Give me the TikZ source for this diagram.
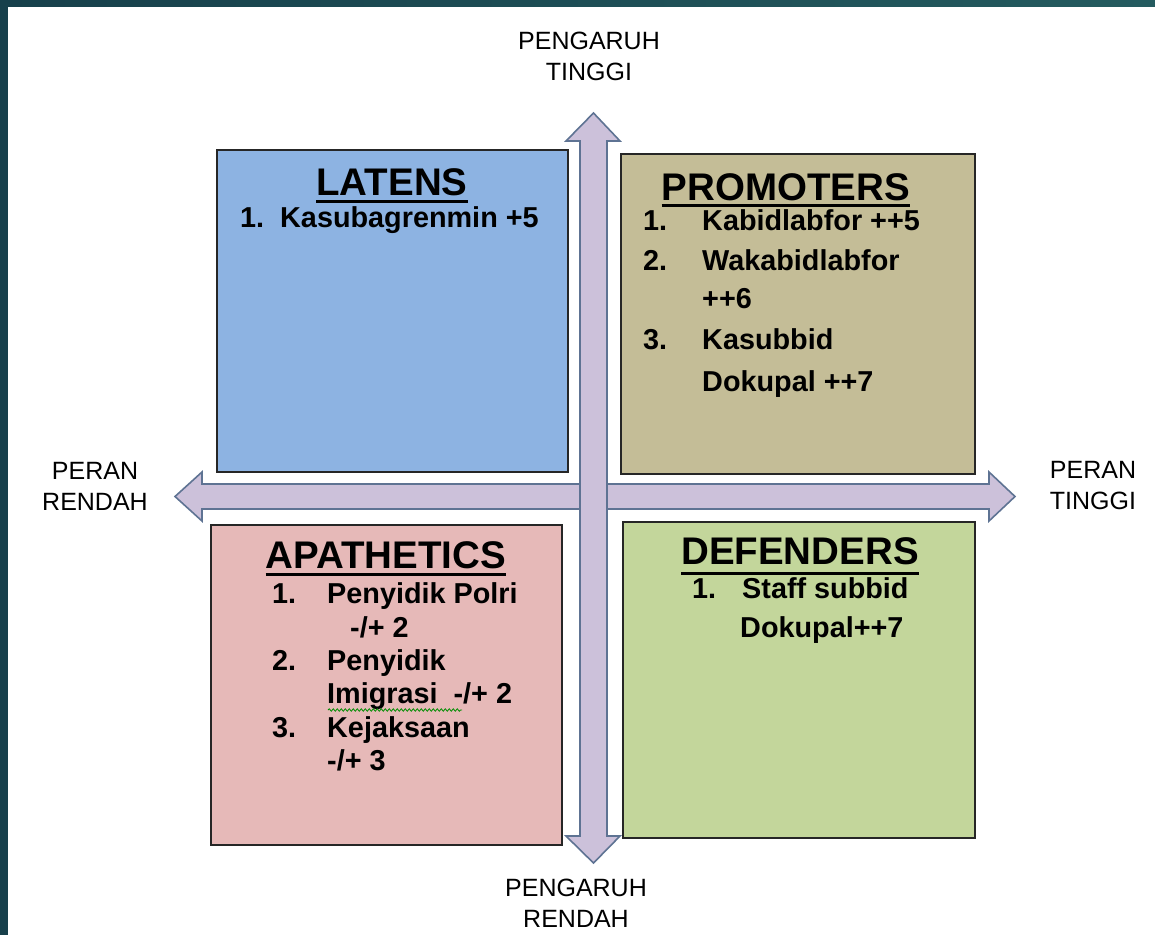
\documentclass[tikz,border=0pt]{standalone}
\usepackage{fontspec}
\setmainfont{Liberation Sans}
\usetikzlibrary{decorations.pathmorphing}
\definecolor{teal1}{HTML}{17404B}
\definecolor{teal2}{HTML}{245B5F}
\definecolor{cblue}{HTML}{8DB3E2}
\definecolor{ctan}{HTML}{C4BD97}
\definecolor{cpink}{HTML}{E6B9B8}
\definecolor{cgreen}{HTML}{C3D69B}
\definecolor{afill}{HTML}{CCC1DA}
\definecolor{aline}{HTML}{5E7393}
\definecolor{bline}{HTML}{262626}
\tikzset{
  quad/.style={draw=bline, line width=2pt},
  arr/.style={fill=afill, draw=aline, line width=1.6pt, line join=miter},
  axlbl/.style={font=\fontsize{25}{31}\selectfont, align=center, inner sep=0pt},
  ttl/.style={font=\fontsize{38.5}{40}\selectfont\bfseries, inner sep=0pt, anchor=base},
  itm/.style={font=\fontsize{28.8}{32}\selectfont\bfseries, inner sep=0pt, anchor=base west},
  uline/.style={line width=3pt}
}
\begin{document}
\begin{tikzpicture}[x=1pt,y=-1pt]
\useasboundingbox (0,0) rectangle (1155,935);
% slide background
\fill[teal1] (0,0) rectangle (1155,935);
\shade[left color=teal1, right color=teal2] (0,0) rectangle (1155,7);
\fill[white] (8,7) rectangle (1155,935);

% quadrant boxes
\draw[quad, fill=cblue] (217,150) rectangle (568,472);
\draw[quad, fill=ctan] (621,154) rectangle (975,474);
\draw[quad, fill=cpink] (211,525) rectangle (562,845);
\draw[quad, fill=cgreen] (623,522) rectangle (975,838);

% axes arrows
\draw[arr] (175,496.5) -- (202,472) -- (202,484) -- (989,484) -- (989,472) -- (1015,496.5)
  -- (989,521) -- (989,509) -- (202,509) -- (202,521) -- cycle;
\draw[arr] (593.5,113) -- (620,141) -- (607,141) -- (607,836) -- (620,836) -- (593.5,863)
  -- (566,836) -- (580,836) -- (580,141) -- (566,141) -- cycle;

% axis labels
\node[axlbl] (top) at (589,56) {PENGARUH\\TINGGI};
\node[axlbl] (bot) at (576,903) {PENGARUH\\RENDAH};
\node[axlbl] (lft) at (95,486) {PERAN\\RENDAH};
\node[axlbl] (rgt) at (1093,486) {PERAN\\TINGGI};

% LATENS
\node[ttl] (t1) at (392,195) {LATENS};
\draw[uline] ([yshift=-6pt]t1.base west) -- ([yshift=-6pt]t1.base east);
\node[itm] (l1n) at (240,227) {1.};
\node[itm] (l1t) at (280,227) {Kasubagrenmin +5};

% PROMOTERS
\node[ttl] (t2) at (786,200) {PROMOTERS};
\draw[uline] ([yshift=-5pt]t2.base west) -- ([yshift=-5pt]t2.base east);
\node[itm] (p1n) at (643,230) {1.};
\node[itm] (p1t) at (702,230) {Kabidlabfor ++5};
\node[itm] (p2n) at (643,270) {2.};
\node[itm] (p2t) at (702,270) {Wakabidlabfor};
\node[itm] (p2u) at (702,308) {++6};
\node[itm] (p3n) at (643,349) {3.};
\node[itm] (p3t) at (702,349) {Kasubbid};
\node[itm] (p3u) at (702,391) {Dokupal ++7};

% APATHETICS
\node[ttl] (t3) at (386,568) {APATHETICS};
\draw[uline] ([yshift=-6pt]t3.base west) -- ([yshift=-6pt]t3.base east);
\node[itm] (a1n) at (272,603) {1.};
\node[itm] (a1t) at (327,603) {Penyidik Polri};
\node[itm] (a1u) at (350,637) {-/+ 2};
\node[itm] (a2n) at (272,670) {2.};
\node[itm] (a2t) at (327,670) {Penyidik};
\node[itm] (a2u) at (327,703) {Imigrasi\ \ -/+ 2};
\node[itm] (a3n) at (272,737) {3.};
\node[itm] (a3t) at (327,737) {Kejaksaan};
\node[itm] (a3u) at (327,770) {-/+ 3};
\coordinate (w1) at (328,710);
\coordinate (w2) at (462,710);
\draw[green!55!black, line width=0.8pt, decorate, decoration={snake, amplitude=1.2pt, segment length=4pt}] (w1) -- (w2);

% DEFENDERS
\node[ttl] (t4) at (800,564) {DEFENDERS};
\draw[uline] ([yshift=-9pt]t4.base west) -- ([yshift=-9pt]t4.base east);
\node[itm] (d1n) at (692,598) {1.};
\node[itm] (d1t) at (742,598) {Staff subbid};
\node[itm] (d1u) at (740,637) {Dokupal++7};
\end{tikzpicture}
\end{document}
